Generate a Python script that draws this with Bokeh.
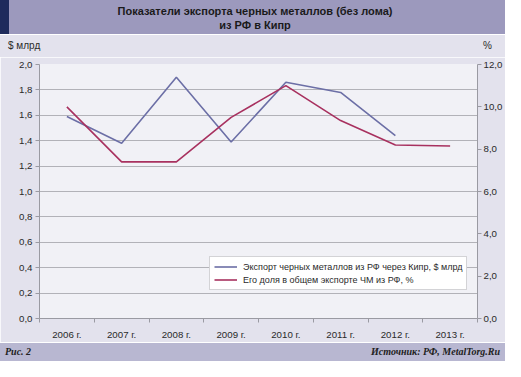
import numpy as np
from bokeh.plotting import figure
from bokeh.models import (Range1d, LinearAxis, FixedTicker, CustomJSTickFormatter,
                          Legend, LegendItem, ColumnDataSource, Div)
from bokeh.layouts import column
from bokeh.embed import file_html
from bokeh.resources import INLINE

# ---- data ----
years = ["2006 г.", "2007 г.", "2008 г.", "2009 г.", "2010 г.", "2011 г.", "2012 г.", "2013 г."]
export_bln = [1.59, 1.38, 1.90, 1.39, 1.86, 1.78, 1.44, np.nan]   # $ млрд (left axis)
share_pct = [10.0, 7.4, 7.4, 9.5, 11.0, 9.35, 8.2, 8.15]          # % (right axis)
left_ticks = [0.0, 0.2, 0.4, 0.6, 0.8, 1.0, 1.2, 1.4, 1.6, 1.8, 2.0]
right_ticks = [0.0, 2.0, 4.0, 6.0, 8.0, 10.0, 12.0]
title_lines = ["Показатели экспорта черных металлов (без лома)", "из РФ в Кипр"]
series_names = ["Экспорт черных металлов из РФ через Кипр, $ млрд",
                "Его доля в общем экспорте ЧМ из РФ, %"]
left_unit = "$ млрд"
right_unit = "%"
fig_caption = "Рис. 2"
source_text = "Источник: РФ, MetalTorg.Ru"

# ---- colours ----
HEADER = "#9c99bd"
STRIP = "#1f2b5c"
BG = "#e3e2ed"
PLOT_BG = "#f1f1f6"
FOOT = "#b8b7d1"
BLUE = "#6c6fa6"
RED = "#a8315f"
GRID = "#b2b2b8"
AXIS = "#9a9aa2"
TXT = "#2a2a2a"
FONT = "Liberation Sans"
SERIF = "Liberation Serif"

W = 505

# ---- header ----
header = Div(
    text=(f'<div style="position:relative;width:{W}px;height:34px;background:{HEADER};">'
          f'<div style="position:absolute;left:0;top:0;width:9px;height:34px;background:{STRIP};"></div>'
          f'<div style="position:absolute;left:0;top:3.5px;width:510px;text-align:center;'
          f'font-family:\'{FONT}\';font-weight:bold;font-size:11px;line-height:14.5px;color:#1a1a1a;">'
          f'{title_lines[0]}<br>{title_lines[1]}</div></div>'),
    width=W, height=34, margin=(0, 0, 1, 0))

units = Div(
    text=(f'<div style="position:relative;width:{W}px;height:22px;background:{BG};'
          f'font-family:\'{FONT}\';font-size:10px;line-height:12px;color:{TXT};">'
          f'<span style="position:absolute;left:8px;top:5px;">{left_unit}</span>'
          f'<span style="position:absolute;left:477px;width:21px;text-align:center;top:5px;">{right_unit}</span>'
          f'</div>'),
    width=W, height=22, margin=0)

footer = Div(
    text=(f'<div style="position:relative;width:{W}px;height:18px;background:{FOOT};'
          f'font-family:\'{SERIF}\';font-style:italic;font-weight:bold;font-size:10px;'
          f'line-height:12px;color:#222222;">'
          f'<span style="position:absolute;left:5px;top:3px;">{fig_caption}</span>'
          f'<span style="position:absolute;right:5px;top:3px;">{source_text}</span>'
          f'</div>'),
    width=W, height=18, margin=(1, 0, 0, 0))

# ---- main chart ----
xs = [i + 0.5 for i in range(len(years))]
src = ColumnDataSource(dict(x=xs, exp=export_bln, pct=share_pct))

p = figure(width=W, height=285, output_backend="svg", toolbar_location=None,
           x_range=Range1d(0, len(years)), y_range=Range1d(left_ticks[0], left_ticks[-1]),
           min_border_left=39, min_border_right=27, min_border_top=7, min_border_bottom=24,
           background_fill_color=PLOT_BG, border_fill_color=BG, outline_line_color=None,
           margin=0)

p.extra_y_ranges = {"pct": Range1d(right_ticks[0], right_ticks[-1])}

fmt = CustomJSTickFormatter(code="return tick.toFixed(1).replace('.', ',');")

ly = p.left[0]
ly.ticker = FixedTicker(ticks=left_ticks)
ly.formatter = fmt
ry = LinearAxis(y_range_name="pct", ticker=FixedTicker(ticks=right_ticks), formatter=fmt)
p.add_layout(ry, "right")

for ax in (ly, ry):
    ax.axis_line_color = AXIS
    ax.major_tick_line_color = AXIS
    ax.major_tick_out = 4
    ax.major_tick_in = 0
    ax.minor_tick_line_color = None
    ax.major_label_text_font = FONT
    ax.major_label_text_font_size = "9.7px"
    ax.major_label_text_color = TXT
ly.major_label_standoff = 3
ry.major_label_standoff = 2

xa = p.below[0]
xa.ticker = FixedTicker(ticks=xs, minor_ticks=list(range(len(years) + 1)))
xa.major_label_overrides = {x: y for x, y in zip(xs, years)}
xa.axis_line_color = AXIS
xa.major_tick_line_color = None
xa.major_tick_out = 0
xa.major_tick_in = 0
xa.minor_tick_line_color = AXIS
xa.minor_tick_out = 4
xa.minor_tick_in = 0
xa.major_label_standoff = 6
xa.major_label_text_font = FONT
xa.major_label_text_font_size = "9.7px"
xa.major_label_text_color = TXT

p.xgrid.visible = False
p.ygrid.grid_line_color = GRID
p.ygrid.grid_line_width = 1

r1 = p.line("x", "exp", source=src, line_color=BLUE, line_width=1.6)
r2 = p.line("x", "pct", source=src, y_range_name="pct", line_color=RED, line_width=1.6)

legend = Legend(items=[LegendItem(label=series_names[0], renderers=[r1]),
                       LegendItem(label=series_names[1], renderers=[r2])],
                location=(170, 28), background_fill_color="white", background_fill_alpha=1,
                border_line_color="#a8a8ae", border_line_width=1,
                label_text_font=FONT, label_text_font_size="9px", label_text_color=TXT,
                glyph_width=23, glyph_height=11, label_height=11, label_standoff=6,
                padding=4, spacing=2, margin=0)
p.add_layout(legend)

layout = column(header, units, p, footer, spacing=0)
open("out.html", "w").write(file_html(layout, INLINE))
